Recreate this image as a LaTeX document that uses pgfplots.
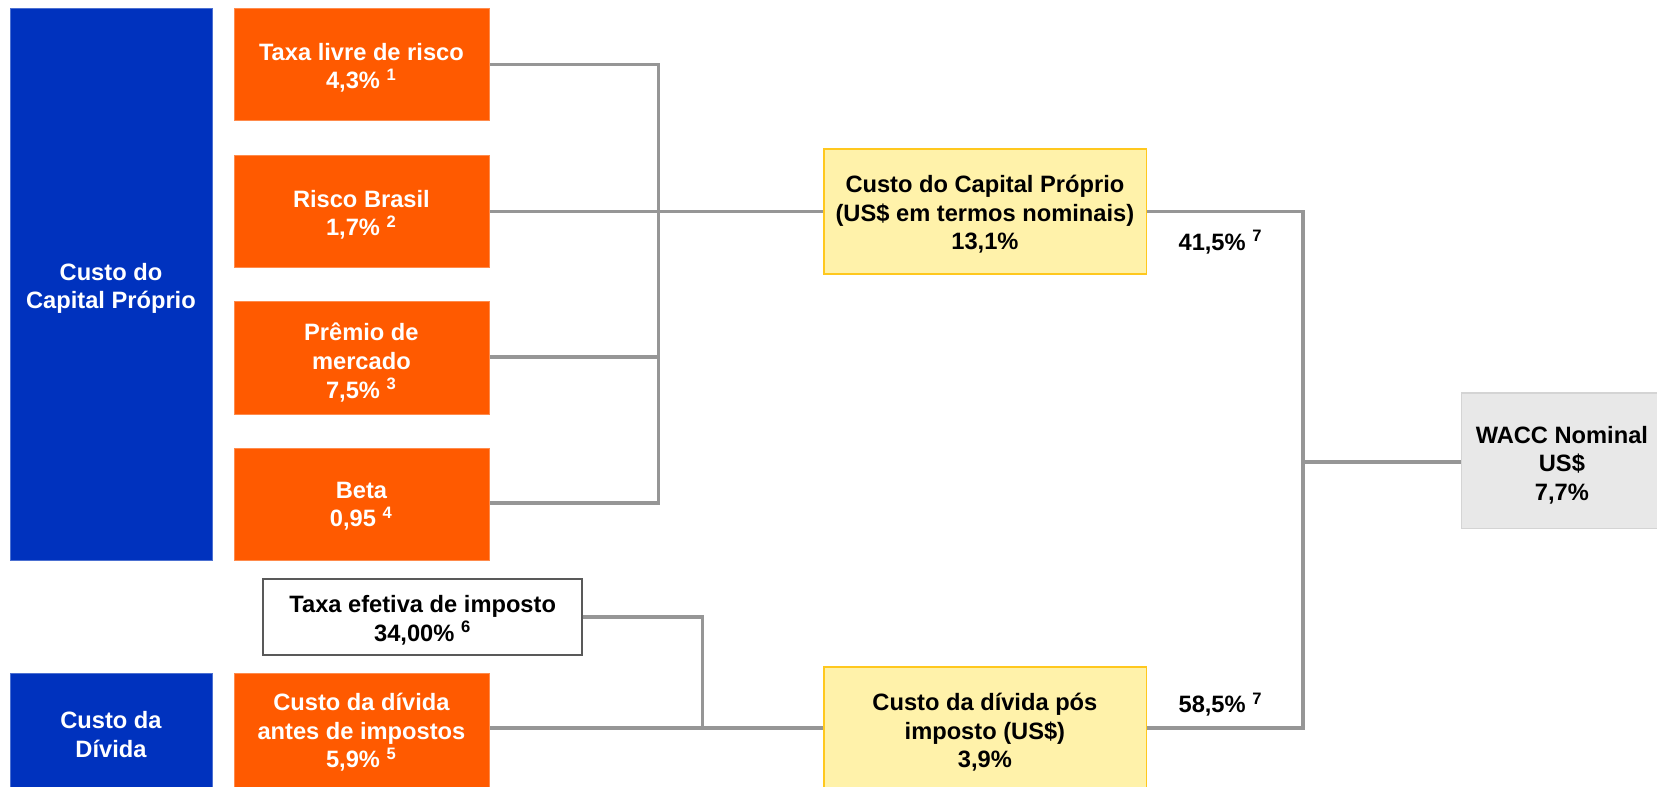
\documentclass[border=0pt]{standalone}
\usepackage{fontspec}
\setmainfont{Liberation Sans}
\usepackage{pgfplots}
\pgfplotsset{compat=1.18}
\definecolor{vblue}{RGB}{0,50,190}
\definecolor{vorange}{RGB}{255,90,0}
\definecolor{vyellow}{RGB}{255,242,170}
\definecolor{vyellowb}{RGB}{255,200,30}
\definecolor{vgrey}{RGB}{232,232,232}
\definecolor{vgreyb}{RGB}{212,212,212}
\definecolor{vline}{RGB}{150,150,150}

\tikzset{lbl/.style={font=\fontsize{11.2}{13.5}\selectfont\bfseries, align=center, inner sep=0pt}}

% box: x1,y1,x2,y2 in picture pixels (y downwards)
\newcommand{\bx}[5]{\addplot[#5] coordinates {(#1,#2) (#3,#2) (#3,#4) (#1,#4)} -- cycle;}

\begin{document}
\begin{tikzpicture}
\begin{axis}[
  hide axis, scale only axis,
  width=784pt, height=372pt,
  xmin=0, xmax=1568, ymin=0, ymax=744,
  y dir=reverse,
]
  % connector lines
  \addplot[vline, line width=1.6pt] coordinates {(463,61) (623,61) (623,476) (463,476)};
  \addplot[vline, line width=1.6pt] coordinates {(463,200) (780,200)};
  \addplot[vline, line width=1.6pt] coordinates {(463,338) (623,338)};
  \addplot[vline, line width=1.6pt] coordinates {(1085,200) (1233,200) (1233,689) (1085,689)};
  \addplot[vline, line width=1.6pt] coordinates {(1233,437) (1383,437)};
  \addplot[vline, line width=1.6pt] coordinates {(551,584) (665,584) (665,689)};
  \addplot[vline, line width=1.6pt] coordinates {(463,689) (780,689)};

  % boxes
  \bx{10}{8}{201}{530}{fill=vblue, draw=vblue!70!white, line width=0.4pt}
  \bx{10}{637}{201}{760}{fill=vblue, draw=vblue!70!white, line width=0.4pt}
  \bx{222}{8}{463}{114}{fill=vorange, draw=vorange!70!white, line width=0.4pt}
  \bx{222}{147}{463}{253}{fill=vorange, draw=vorange!70!white, line width=0.4pt}
  \bx{222}{285}{463}{392}{fill=vorange, draw=vorange!70!white, line width=0.4pt}
  \bx{222}{424}{463}{530}{fill=vorange, draw=vorange!70!white, line width=0.4pt}
  \bx{222}{637}{463}{760}{fill=vorange, draw=vorange!70!white, line width=0.4pt}
  \bx{249}{548}{551}{620}{fill=white, draw=black!65, line width=0.8pt}
  \bx{780}{141}{1085}{259}{fill=vyellow, draw=vyellowb, line width=0.8pt}
  \bx{780}{631}{1085}{760}{fill=vyellow, draw=vyellowb, line width=0.8pt}
  \bx{1383}{372}{1600}{500}{fill=vgrey, draw=vgreyb, line width=0.8pt}

  % texts
  \node[lbl, text=white] at (axis cs:105,273) {Custo do\\Capital Próprio};
  \node[lbl, text=white] at (axis cs:105,695) {Custo da\\Dívida};
  \node[lbl, text=white] at (axis cs:342,64) {Taxa livre de risco\\4,3\% \textsuperscript{1}};
  \node[lbl, text=white] at (axis cs:342,203) {Risco Brasil\\1,7\% \textsuperscript{2}};
  \node[lbl, text=white] at (axis cs:342,343) {Prêmio de\\mercado\\7,5\% \textsuperscript{3}};
  \node[lbl, text=white] at (axis cs:342,479) {Beta\\0,95 \textsuperscript{4}};
  \node[lbl, text=white] at (axis cs:342,693) {Custo da dívida\\antes de impostos\\5,9\% \textsuperscript{5}};
  \node[lbl, text=black] at (axis cs:400,587) {Taxa efetiva de imposto\\34,00\% \textsuperscript{6}};
  \node[lbl, text=black] at (axis cs:932,203) {Custo do Capital Próprio\\(US\$ em termos nominais)\\13,1\%};
  \node[lbl, text=black] at (axis cs:932,693) {Custo da dívida pós\\imposto (US\$)\\3,9\%};
  \node[lbl, text=black] at (axis cs:1478,440) {WACC Nominal\\US\$\\7,7\%};
  \node[lbl, text=black] at (axis cs:1155,229) {41,5\% \textsuperscript{7}};
  \node[lbl, text=black] at (axis cs:1155,667) {58,5\% \textsuperscript{7}};
\end{axis}
\pgfresetboundingbox
\path (current axis.south west) rectangle (current axis.north east);
\end{tikzpicture}
\end{document}
